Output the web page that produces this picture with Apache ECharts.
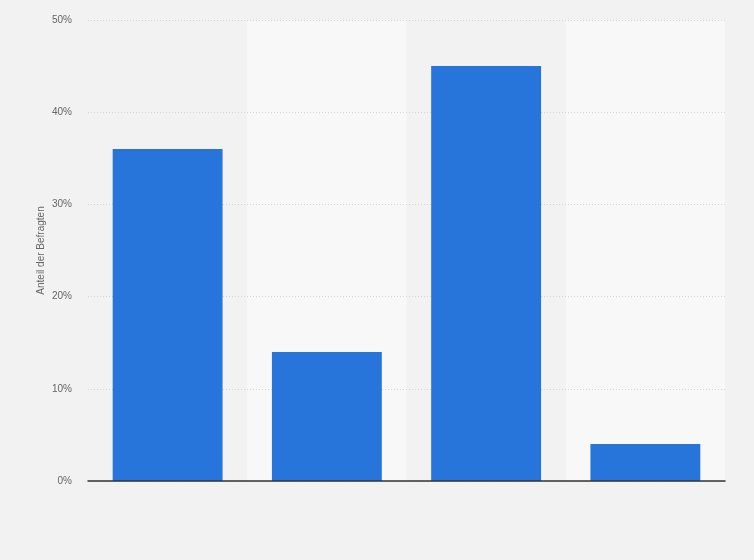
<!DOCTYPE html>
<html>
<head>
<meta charset="utf-8">
<script src="https://cdn.jsdelivr.net/npm/echarts@6/dist/echarts.min.js"></script>
<style>
html,body{margin:0;padding:0;background:#f2f2f2;}
#chart{width:754px;height:560px;}
</style>
</head>
<body>
<div id="chart"></div>
<script>
const categories = ['Kategorie 1', 'Kategorie 2', 'Kategorie 3', 'Kategorie 4'];
const values = [36, 14, 45, 4];
const yTicks = { min: 0, max: 50, interval: 10 };
const yAxisName = 'Anteil der Befragten';

const chart = echarts.init(document.getElementById('chart'));
chart.setOption({
  backgroundColor: '#f2f2f2',
  animation: false,
  grid: { left: 88, right: 29, top: 20, bottom: 79, containLabel: false },
  xAxis: [{
    type: 'category',
    data: categories,
    z: 0,
    axisLine: { show: false },
    axisTick: { show: false },
    axisLabel: { show: false },
    splitArea: { show: true, areaStyle: { color: ['rgba(0,0,0,0)', '#f8f8f8'] } }
  }, {
    type: 'category',
    data: categories,
    position: 'bottom',
    z: 3,
    axisLine: { show: true, lineStyle: { color: '#333', width: 1.5 } },
    axisTick: { show: false },
    axisLabel: { show: false },
    splitArea: { show: false },
    splitLine: { show: false }
  }],
  yAxis: {
    type: 'value',
    z: 1,
    min: yTicks.min, max: yTicks.max, interval: yTicks.interval,
    name: yAxisName,
    nameLocation: 'middle',
    nameMoveOverlap: false,
    nameGap: 42,
    nameTextStyle: { color: '#666', fontSize: 10, fontFamily: 'Arial, Liberation Sans, sans-serif' },
    axisLine: { show: false },
    axisTick: { show: false },
    axisLabel: { formatter: '{value}%', color: '#666', fontSize: 10, margin: 16, fontFamily: 'Arial, Liberation Sans, sans-serif' },
    splitLine: { show: true, lineStyle: { color: '#d4d4d4', type: [1, 2], width: 1 } }
  },
  series: [{
    type: 'bar',
    z: 2,
    xAxisIndex: 0,
    data: values,
    barCategoryGap: '31%',
    itemStyle: { color: '#2775db' }
  }]
});
</script>
</body>
</html>
